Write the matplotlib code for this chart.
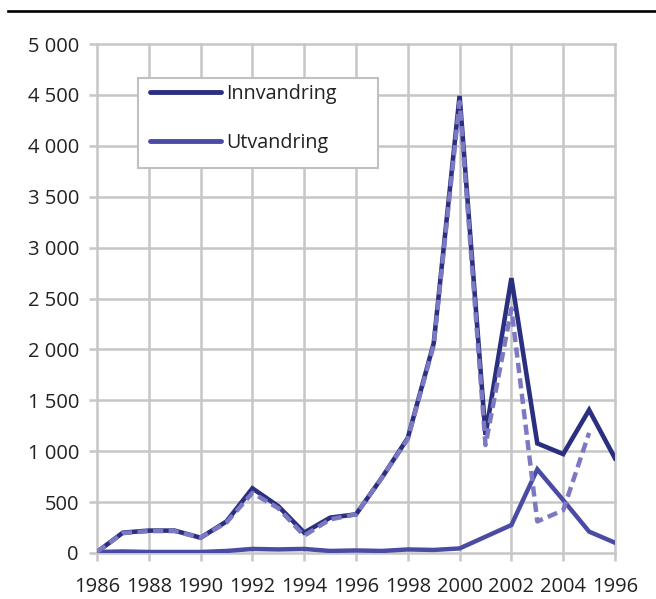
import matplotlib
matplotlib.use("Agg")
import matplotlib.pyplot as plt
import numpy as np
from matplotlib.lines import Line2D
from matplotlib.patches import Rectangle

plt.rcParams['font.family'] = ['Open Sans', 'DejaVu Sans']

years = list(range(1986, 2007))
tick_labels = ["1986", "1988", "1990", "1992", "1994", "1996", "1998",
               "2000", "2002", "2004", "1996"]
innvandring = [10, 200, 220, 220, 150, 310, 635, 460, 200, 347, 380, 740,
               1130, 2060, 4490, 1160, 2700, 1077, 972, 1405, 930]
innvandring_dashed = [10, 195, 215, 215, 150, 300, 590, 440, 170, 330, 380, 740,
                      1120, 2040, 4430, 1060, 2400, 310, 420, 1180, np.nan]
utvandring = [10, 15, 10, 10, 10, 20, 40, 35, 40, 20, 25, 20, 35, 30, 45,
              160, 275, 822, 520, 210, 101]

dark = "#2b2f80"
mid = "#4b4ba3"
light = "#7c79c2"
grid_c = "#c6c6c6"
W, H = 656, 599

fig = plt.figure(figsize=(W/100, H/100), dpi=100)
ax = fig.add_axes([97/W, 1-553/H, (615-97)/W, (553-44)/H])

x = np.arange(len(years))
ax.plot(x, utvandring, color=mid, lw=3.2, solid_joinstyle='miter', zorder=3)
ax.plot(x, innvandring, color=dark, lw=3.3, solid_joinstyle='miter', zorder=3)
ax.plot(x, innvandring_dashed, color=light, lw=3.2, dashes=(2.3, 1.2), zorder=4)

ax.set_xlim(0, 20)
ax.set_ylim(0, 5000)
ax.set_xticks(np.arange(0, 21, 2))
ax.set_xticklabels(tick_labels)
yt = np.arange(0, 5001, 500)
ax.set_yticks(yt)
ax.set_yticklabels([f"{v:,}".replace(",", " ") for v in yt])
for s in ax.spines.values():
    s.set_visible(False)
ax.grid(True, color=grid_c, lw=1.8, zorder=0)
for gl in ax.get_xgridlines() + ax.get_ygridlines():
    gl.set_clip_on(False)
ax.tick_params(axis='both', colors=grid_c, width=1.8, length=6, labelsize=14.5,
               labelcolor="#222222")
ax.tick_params(axis='x', pad=11)
ax.tick_params(axis='y', pad=7)
ax.set_axisbelow(True)

# legend frame
rect = Rectangle((138/W, 1-168/H), (378-138)/W, (168-78)/H, transform=fig.transFigure,
                 facecolor="white", edgecolor="#c0c0c0", lw=1.5, zorder=5, clip_on=False)
ax.add_patch(rect)

handles = [Line2D([], [], color=dark, lw=3.5, solid_capstyle='round'),
           Line2D([], [], color=mid, lw=3.5, solid_capstyle='round')]
leg = ax.legend(handles, ["Innvandring", "Utvandring"], loc='upper left',
                bbox_to_anchor=(150/W, 1-84/H), bbox_transform=fig.transFigure,
                fontsize=14.2, frameon=False, handlelength=3.6, handletextpad=0.25,
                labelspacing=1.45, borderpad=0, borderaxespad=0)
leg.set_zorder(6)
for t in leg.get_texts():
    t.set_color("#222222")

fig.add_artist(Line2D([8/W, 1], [1-11/H, 1-11/H], color="black", lw=1.9,
                      transform=fig.transFigure))

fig.savefig("out.png", dpi=100)
